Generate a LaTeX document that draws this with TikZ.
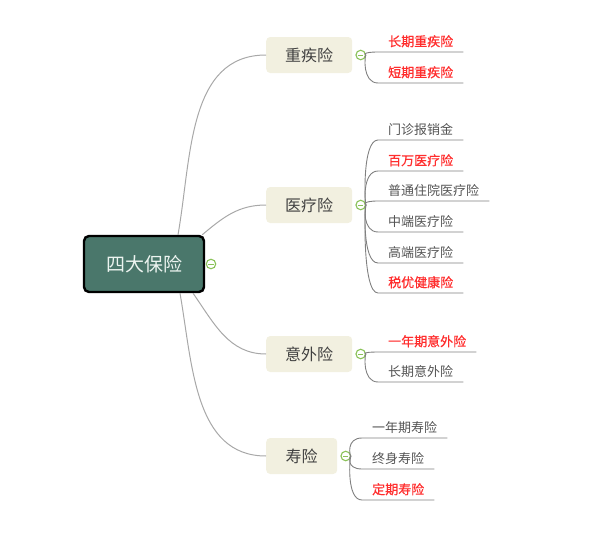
\documentclass[tikz,border=0pt]{standalone}
\usepackage{fontspec}
\setmainfont{Noto Sans CJK SC}
\newfontfamily\hotfont[FakeBold=0.7]{Noto Sans CJK SC}
\usetikzlibrary{positioning}
\definecolor{rootfill}{RGB}{74,119,107}
\definecolor{roottext}{RGB}{236,244,240}
\definecolor{boxfill}{RGB}{242,240,224}
\definecolor{boxtext}{RGB}{64,64,64}
\definecolor{leaftext}{RGB}{84,84,84}
\definecolor{leafred}{RGB}{255,45,45}
\definecolor{foldgreen}{RGB}{138,194,88}
\definecolor{linkgray}{RGB}{168,168,168}
\definecolor{leafline}{RGB}{128,128,128}

\begin{document}
\begin{tikzpicture}[x=1pt, y=1pt,
  rootbox/.style={draw=black, line width=2.4pt, rounded corners=5pt, fill=rootfill, text=roottext, minimum width=120pt, minimum height=56pt, font=\fontsize{19}{22}\selectfont},
  box/.style={fill=boxfill, rounded corners=4pt, minimum width=86pt, minimum height=36pt, text=boxtext, font=\fontsize{16}{19}\selectfont, anchor=west},
  leaf/.style={anchor=south west, inner xsep=10pt, inner ysep=4.5pt, text=leaftext, font=\fontsize{13}{15}\selectfont},
  hot/.style={text=leafred, font=\fontsize{13}{15}\hotfont},
  fold/.style={circle, draw=foldgreen, line width=1.1pt, fill=white, minimum size=9.5pt, inner sep=0pt,
    path picture={\draw[foldgreen, line width=1pt] ([xshift=2pt]path picture bounding box.west) -- ([xshift=-2pt]path picture bounding box.east);}},
  link/.style={draw=linkgray, line width=1pt},
  llink/.style={draw=leafline, line width=0.9pt}
]
\useasboundingbox (0,0) rectangle (600,-546);

% --- Root ---
\node[rootbox] (root) at (144,-264) {四大保险};
\node[fold, right=0.5pt of root] (f0) {};

% --- Branches ---
\node[box] (crit) at (266,-55) {重疾险};
\node[box] (med) at (266,-205) {医疗险};
\node[box] (acc) at (266,-354) {意外险};
\node[box, minimum width=71pt] (life) at (266,-456) {寿险};

\node[fold, right=3pt of crit] (fc) {};
\node[fold, right=3pt of med] (fm) {};
\node[fold, right=3pt of acc] (fa) {};
\node[fold, right=3pt of life] (fl) {};

% --- Root -> branches ---
\draw[link] ([xshift=34pt]root.north) to[out=80,in=180] (crit.west);
\draw[link] ([xshift=-3pt]root.north east) to[out=40,in=180] (med.west);
\draw[link] ([xshift=49pt]root.south) to[out=-55,in=180] (acc.west);
\draw[link] ([xshift=36pt]root.south) to[out=-80,in=180] (life.west);

% --- Leaves ---
\node[leaf, hot] (c1) at (378,-52) {长期重疾险};
\node[leaf, hot] (c2) at (378,-83) {短期重疾险};

\node[leaf] (m1) at (378,-140) {门诊报销金};
\node[leaf, hot] (m2) at (378,-171) {百万医疗险};
\node[leaf] (m3) at (378,-201) {普通住院医疗险};
\node[leaf] (m4) at (378,-232) {中端医疗险};
\node[leaf] (m5) at (378,-263) {高端医疗险};
\node[leaf, hot] (m6) at (378,-293) {税优健康险};

\node[leaf, hot] (a1) at (378,-352) {一年期意外险};
\node[leaf] (a2) at (378,-382) {长期意外险};

\node[leaf] (l1) at (362,-438) {一年期寿险};
\node[leaf] (l2) at (362,-469) {终身寿险};
\node[leaf, hot] (l3) at (362,-500) {定期寿险};

% --- Branches -> leaves ---
\foreach \f/\l in {fc/c1, fc/c2, fm/m1, fm/m2, fm/m3, fm/m4, fm/m5, fm/m6, fa/a1, fa/a2, fl/l1, fl/l2, fl/l3}
  \draw[llink] (\f) .. controls +(4pt,0) and +(-16pt,0) .. (\l.south west) -- (\l.south east);

\end{tikzpicture}
\end{document}
